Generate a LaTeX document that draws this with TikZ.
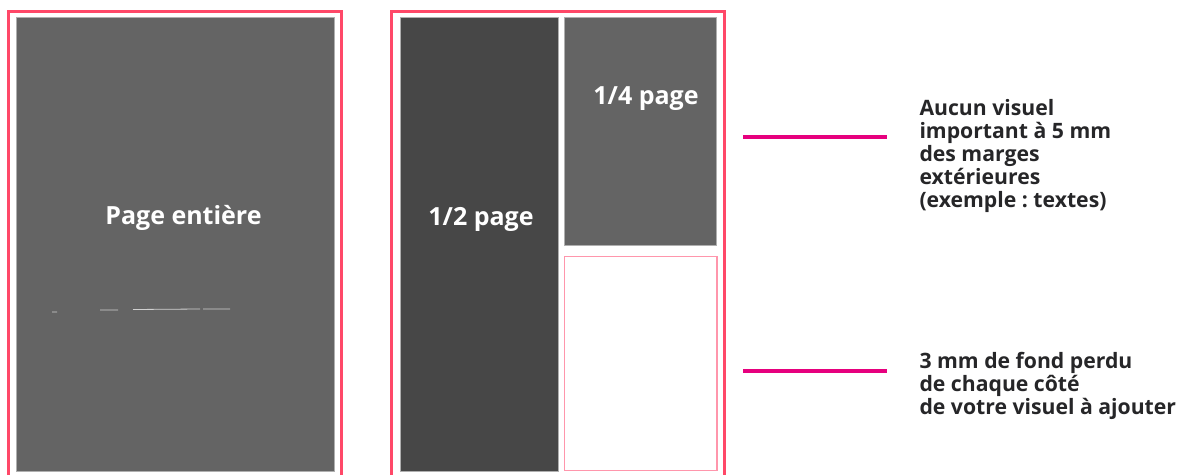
\documentclass[tikz,border=0pt]{standalone}
\usepackage{fontspec}
\setmainfont{Open Sans}
\frenchspacing
\definecolor{cadre}{RGB}{255,72,104}
\definecolor{cadreclair}{RGB}{255,150,172}
\definecolor{fond}{RGB}{100,100,100}
\definecolor{fondsombre}{RGB}{71,71,71}
\definecolor{bord}{RGB}{175,175,175}
\definecolor{trait}{RGB}{230,0,126}
\definecolor{texte}{RGB}{38,38,40}
\tikzset{
  cadre/.style={draw=cadre,line width=2.6pt},
  encart/.style={fill=fond,draw=bord,line width=0.6pt},
  encartsombre/.style={fill=fondsombre,draw=bord,line width=0.6pt},
  vide/.style={draw=cadreclair,line width=1.3pt},
  legende/.style={draw=trait,line width=4pt},
  titre/.style={text=white,font=\bfseries\fontsize{25}{30}\selectfont},
  note/.style={text=texte,anchor=north west,align=left,inner sep=0pt,
    font=\bfseries\fontsize{21.2}{23.2}\selectfont}
}
\begin{document}
\begin{tikzpicture}[x=1pt,y=-1pt]
  \useasboundingbox (0,0) rectangle (1194,474);

  % page entiere
  \draw[cadre] (8.7,476) -- (8.7,11.3) -- (341.3,11.3) -- (341.3,476);
  \draw[encart] (16.7,17) rectangle (334.3,471.5);
  \node[titre] (entiere) at (183.5,218) {Page entière};
  \draw[white,opacity=0.7,line width=0.8pt]
    (52,312) -- (57,312) (100,310) -- (118,310) (133,309.5) -- (200,309)
    (203,309) -- (230,309);

  % demi et quart de page
  \draw[cadre] (391.7,476) -- (391.7,11.3) -- (724.7,11.3) -- (724.7,476);
  \draw[encartsombre] (400.7,17) rectangle (558.7,471.7);
  \draw[encart] (564,17) rectangle (716,245);
  \draw[vide] (564.3,256.3) rectangle (717,470.5);
  \node[titre] (demi) at (481,219) {1/2 page};
  \node[titre] (quart) at (646,99) {1/4 page};

  % legende
  \coordinate (a1) at (743.3,136.7);
  \coordinate (a2) at (887,136.7);
  \coordinate (b1) at (743.3,370.7);
  \coordinate (b2) at (887,370.7);
  \draw[legende] (a1) -- (a2);
  \draw[legende] (b1) -- (b2);
  \node[note] (marges) at (919.3,98.8) {Aucun visuel\\important à 5 mm\\des marges\\extérieures\\(exemple : textes)};
  \node[note] (perdu) at (919.3,351.6) {3 mm de fond perdu\\de chaque côté\\de votre visuel à ajouter};
\end{tikzpicture}
\end{document}
